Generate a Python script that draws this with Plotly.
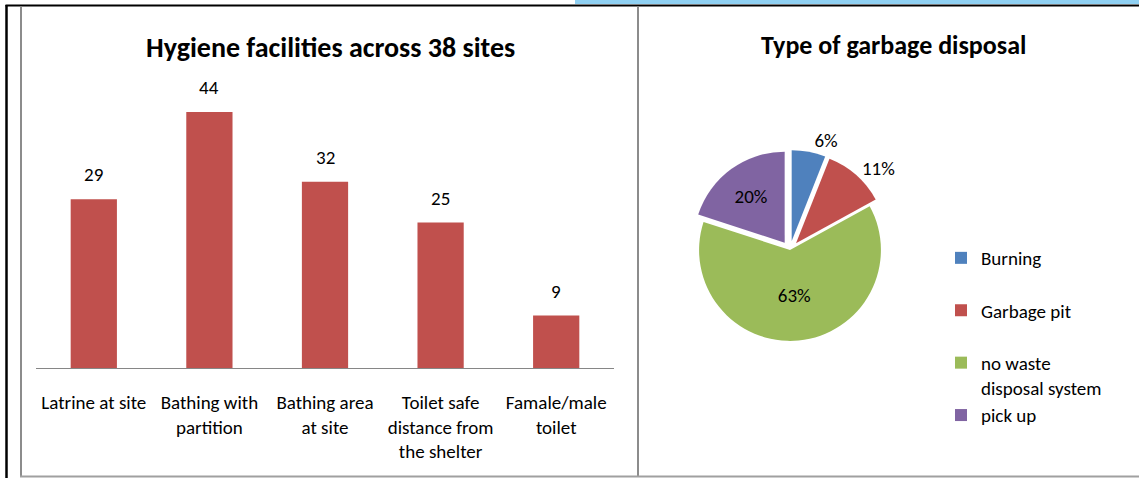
import plotly.graph_objects as go

W, H = 1139, 478

# ---- data ----
bar_title = "Hygiene facilities across 38 sites"
bar_categories = [
    "Latrine at site",
    "Bathing with<br>partition",
    "Bathing area<br>at site",
    "Toilet safe<br>distance from<br>the shelter",
    "Famale/male<br>toilet",
]
bar_values = [29, 44, 32, 25, 9]

pie_title = "Type of garbage disposal"
pie_legend_names = ["Burning<br> ", "Garbage pit<br> ", "no waste<br>disposal system", "pick up"]
pie_values = [6, 11, 63, 20]
pie_colors = ["#4F81BD", "#C0504D", "#9BBB59", "#8064A2"]

FONT = "Carlito, Calibri, Lato, sans-serif"
FS = 19


def px_x(p):
    return p / W


def px_y(p):
    return 1 - p / H


fig = go.Figure()

fig.add_trace(go.Bar(
    x=bar_categories, y=bar_values,
    marker=dict(color="#C0504D", line=dict(width=0)),
    width=0.4, showlegend=False, hoverinfo="x+y",
    xaxis="x", yaxis="y",
))

fig.add_trace(go.Pie(
    labels=pie_legend_names, values=pie_values,
    marker=dict(colors=pie_colors, line=dict(color="white", width=0)),
    sort=False, direction="clockwise", rotation=0,
    pull=[0.1, 0.1, 0.0, 0.1],
    textinfo="percent", texttemplate="%{percent:.0%}",
    textposition=["outside", "outside", "inside", "inside"],
    textfont=dict(family=FONT, size=FS, color="black"),
    insidetextorientation="horizontal",
    domain=dict(x=[px_x(680), px_x(900)], y=[px_y(350), px_y(150)]),
    showlegend=True,
))

annotations = []
for c, v in zip(bar_categories, bar_values):
    annotations.append(dict(
        x=c, y=v, xref="x", yref="y", text=str(v), showarrow=False,
        yanchor="bottom", yshift=11,
        font=dict(family=FONT, size=FS, color="black"),
    ))
annotations.append(dict(
    x=px_x(330), y=px_y(47), xref="paper", yref="paper", text=bar_title,
    xanchor="center", yanchor="middle",
    showarrow=False, font=dict(family=FONT, size=28, color="black", weight="bold"),
))
annotations.append(dict(
    x=px_x(894), y=px_y(45), xref="paper", yref="paper", text=pie_title,
    xanchor="center", yanchor="middle",
    showarrow=False, font=dict(family=FONT, size=26, color="black", weight="bold"),
))

shapes = [
    # blue header band
    dict(type="rect", xref="paper", yref="paper", x0=px_x(575), x1=1, y0=px_y(4), y1=1,
         fillcolor="#8FD0F2", line=dict(width=0), layer="below"),
    # black document border
    dict(type="line", xref="paper", yref="paper", x0=px_x(6.5), x1=px_x(6.5), y0=0, y1=px_y(5),
         line=dict(color="black", width=2.5)),
    dict(type="line", xref="paper", yref="paper", x0=px_x(5.5), x1=1, y0=px_y(5.5), y1=px_y(5.5),
         line=dict(color="black", width=2)),
    # gray panel borders
    dict(type="line", xref="paper", yref="paper", x0=px_x(21), x1=px_x(21), y0=px_y(477), y1=px_y(6.5),
         line=dict(color="#8C8C8C", width=2)),
    dict(type="line", xref="paper", yref="paper", x0=px_x(638), x1=px_x(638), y0=px_y(477), y1=px_y(6.5),
         line=dict(color="#8C8C8C", width=2)),
    dict(type="line", xref="paper", yref="paper", x0=px_x(20), x1=1, y0=px_y(476.5), y1=px_y(476.5),
         line=dict(color="#A0A0A0", width=2)),
]

fig.update_layout(
    width=W, height=H,
    margin=dict(l=0, r=0, t=0, b=0),
    paper_bgcolor="white", plot_bgcolor="white",
    font=dict(family=FONT, size=FS, color="black"),
    xaxis=dict(
        domain=[px_x(36), px_x(614)],
        showline=True, linecolor="#868686", linewidth=1,
        showgrid=False, zeroline=False, ticks="",
        tickfont=dict(family=FONT, size=FS, color="black"),
        tickangle=0, ticklabelstandoff=17,
    ),
    yaxis=dict(
        domain=[px_y(368), px_y(77)], range=[0, 50],
        visible=False, showgrid=False, zeroline=False,
    ),
    bargap=0.6,
    legend=dict(
        x=px_x(941), y=px_y(239), xanchor="left", yanchor="top",
        font=dict(family=FONT, size=FS, color="black"),
        valign="top", itemsizing="constant", itemwidth=30, tracegroupgap=0,
        bgcolor="rgba(0,0,0,0)",
    ),
    annotations=annotations,
    shapes=shapes,
)

fig.write_html(
    "out.html",
    config={"displayModeBar": False},
    post_script="document.body.style.margin='0';document.body.style.padding='0';",
)
